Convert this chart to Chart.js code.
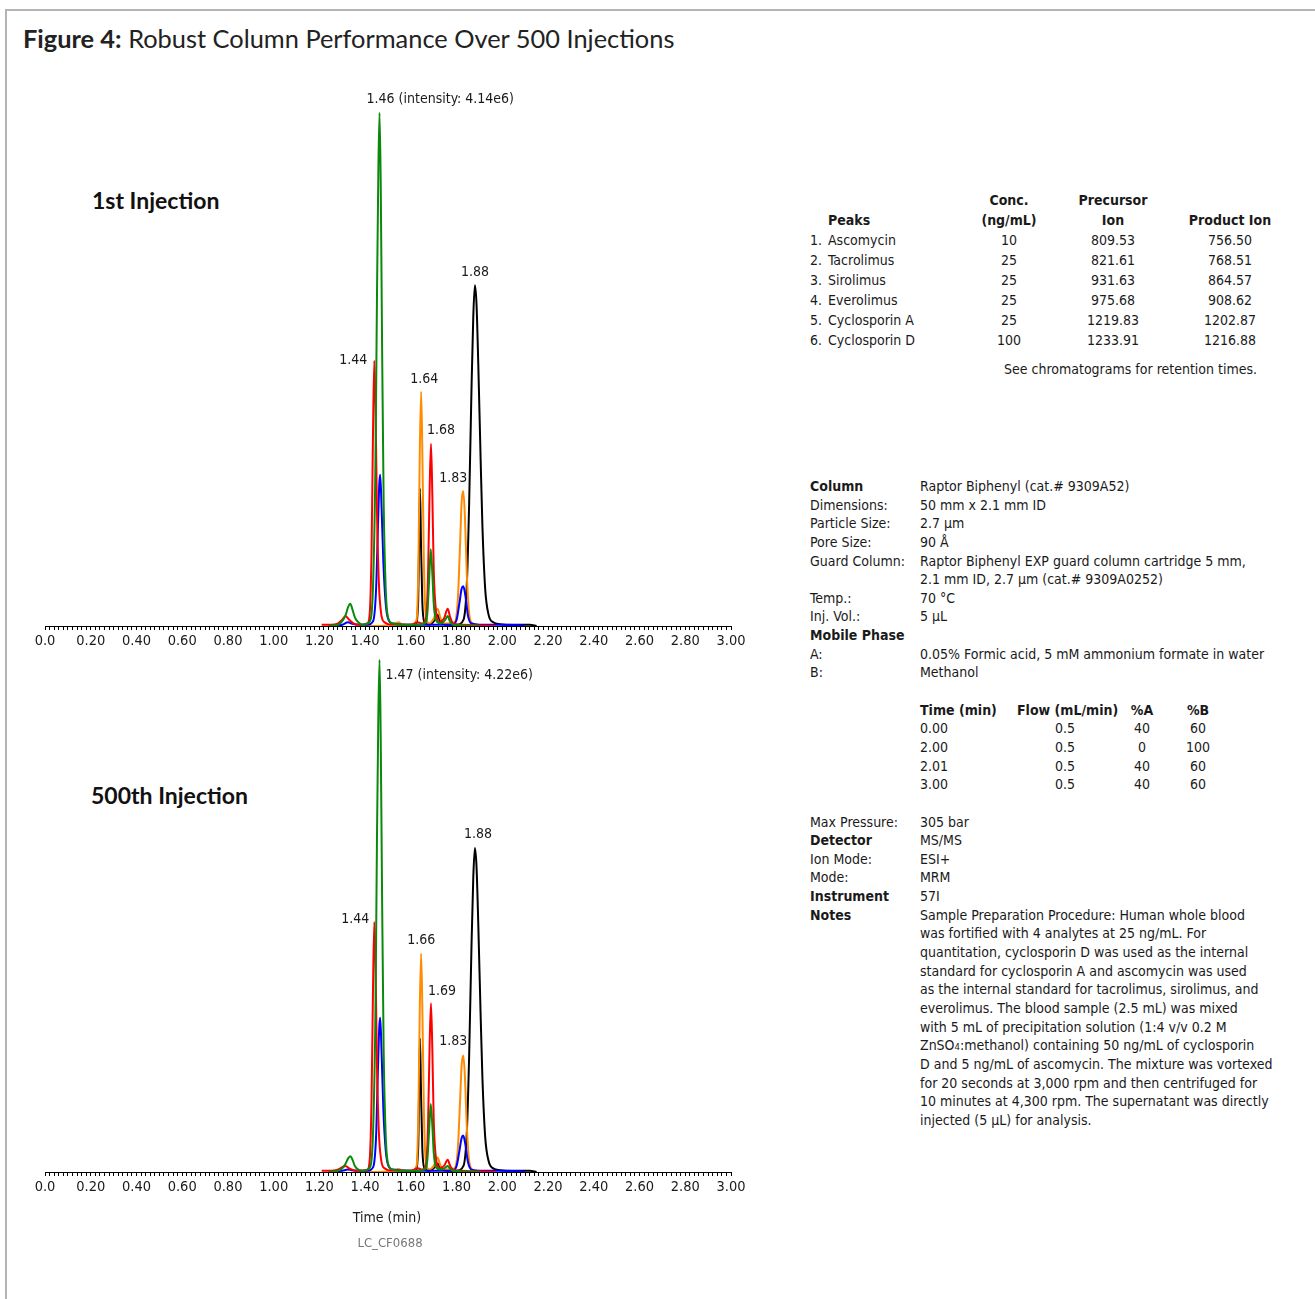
<!DOCTYPE html>
<html><head><meta charset="utf-8">
<script src="https://cdn.jsdelivr.net/npm/chart.js@4/dist/chart.umd.min.js"></script>
<style>
body{margin:0;width:1315px;height:1299px;position:relative;background:#fff;font-family:"DejaVu Sans Condensed",Roboto,sans-serif;color:#1a1a1a;overflow:hidden}
.fr1{position:absolute;left:5px;top:9px;width:1310px;height:2px;background:#b4b4b4}
.fr2{position:absolute;left:5px;top:9px;width:2px;height:1290px;background:#b4b4b4}
.title{position:absolute;left:23px;top:21px;font-family:Lato,sans-serif;font-size:25.4px;line-height:34px;white-space:nowrap;color:#222}
.title b{font-weight:700}
.inj{position:absolute;font-family:Lato,sans-serif;font-weight:700;font-size:23px;line-height:28px;white-space:nowrap;color:#111}
canvas{position:absolute;left:0}
.t16{font-size:14px}
.abs{position:absolute;white-space:nowrap}
.ctr{text-align:center}
.cond{position:absolute;left:810px;top:477px;font-size:14px;line-height:18.65px}
.cond .r{white-space:nowrap;height:18.65px}
.cond .k{display:inline-block;width:110px}
.grad span{display:inline-block;text-align:center}
</style></head>
<body>
<div class="fr1"></div><div class="fr2"></div>
<div class="title"><b>Figure 4:</b> Robust Column Performance Over 500 Injections</div>
<div class="inj" style="left:92px;top:186px">1st Injection</div>
<div class="inj" style="left:91px;top:781px">500th Injection</div>

<canvas id="c1" width="760" height="590" style="top:80px;width:760px;height:590px"></canvas>
<canvas id="c2" width="760" height="586" style="top:630px;width:760px;height:586px"></canvas>

<div class="abs t16 ctr" style="left:337px;top:1207px;width:100px;line-height:20px">Time (min)</div>
<div class="abs ctr" style="left:340px;top:1234px;width:100px;font-size:13px;line-height:18px;color:#777">LC_CF0688</div>

<div id="peaks"></div>
<div class="cond" id="cond"></div>

<script>
// ---------- chromatogram data: [time (min), intensity (x1e6)] ----------
const top_green = [[1.24,0],[1.28,0.01],[1.30,0.04],[1.315,0.09],[1.325,0.15],[1.335,0.18],[1.345,0.13],[1.355,0.07],[1.37,0.03],[1.39,0.01],[1.41,0.02],[1.425,0.06],[1.435,0.35],[1.445,1.3],[1.452,2.7],[1.458,3.7],[1.463,4.14],[1.468,3.6],[1.474,2.3],[1.481,1.0],[1.49,0.3],[1.50,0.07],[1.52,0.02],[1.56,0.01],[1.62,0.01],[1.66,0.02],[1.672,0.1],[1.68,0.38],[1.687,0.62],[1.694,0.42],[1.70,0.18],[1.71,0.05],[1.73,0.02],[1.75,0.05],[1.761,0.08],[1.77,0.04],[1.785,0.01],[1.82,0.005],[1.90,0]];
const top_red = [[1.21,0.01],[1.25,0.01],[1.28,0.02],[1.30,0.05],[1.314,0.08],[1.33,0.05],[1.35,0.02],[1.38,0.01],[1.41,0.02],[1.42,0.1],[1.428,0.6],[1.434,1.5],[1.44,2.14],[1.446,1.7],[1.452,0.9],[1.46,0.35],[1.47,0.1],[1.485,0.03],[1.52,0.01],[1.60,0.01],[1.63,0.03],[1.65,0.02],[1.665,0.05],[1.675,0.4],[1.682,1.1],[1.688,1.47],[1.694,1.05],[1.70,0.45],[1.71,0.12],[1.725,0.03],[1.745,0.06],[1.761,0.14],[1.772,0.07],[1.785,0.02],[1.82,0.01],[1.90,0.005],[1.97,0]];
const top_blue = [[1.26,0],[1.30,0.01],[1.325,0.03],[1.34,0.02],[1.37,0.01],[1.41,0.01],[1.435,0.04],[1.448,0.3],[1.456,0.8],[1.462,1.15],[1.466,1.22],[1.472,0.95],[1.48,0.5],[1.49,0.18],[1.50,0.06],[1.52,0.02],[1.60,0.01],[1.70,0.01],[1.78,0.01],[1.80,0.05],[1.812,0.18],[1.822,0.3],[1.829,0.32],[1.838,0.25],[1.85,0.08],[1.865,0.02],[1.90,0.01],[2.00,0.01],[2.10,0.005]];
const top_orange = [[1.40,0],[1.50,0.005],[1.53,0.02],[1.546,0.03],[1.56,0.015],[1.60,0.01],[1.625,0.05],[1.633,0.5],[1.639,1.4],[1.645,1.89],[1.651,1.3],[1.657,0.5],[1.665,0.1],[1.68,0.02],[1.70,0.06],[1.717,0.14],[1.73,0.06],[1.75,0.02],[1.79,0.03],[1.805,0.2],[1.815,0.65],[1.822,1.0],[1.829,1.09],[1.836,0.9],[1.845,0.4],[1.855,0.1],[1.87,0.02],[1.95,0]];
const top_black = [[1.58,0],[1.62,0.01],[1.632,0.2],[1.637,0.8],[1.640,1.11],[1.644,0.7],[1.65,0.2],[1.66,0.03],[1.68,0.01],[1.705,0.05],[1.717,0.09],[1.73,0.03],[1.76,0.01],[1.80,0.01],[1.83,0.05],[1.845,0.35],[1.855,1.0],[1.865,1.9],[1.873,2.5],[1.88,2.75],[1.887,2.6],[1.895,2.1],[1.905,1.35],[1.913,0.8],[1.925,0.3],[1.94,0.09],[1.96,0.03],[1.99,0.015],[2.05,0.01],[2.12,0.01],[2.15,0]];

const bot_green = [[1.24,0],[1.28,0.01],[1.30,0.03],[1.315,0.07],[1.325,0.11],[1.335,0.13],[1.345,0.10],[1.355,0.05],[1.37,0.02],[1.39,0.01],[1.41,0.02],[1.425,0.06],[1.435,0.35],[1.445,1.3],[1.452,2.8],[1.458,3.8],[1.463,4.22],[1.468,3.6],[1.474,2.3],[1.481,1.0],[1.49,0.3],[1.50,0.07],[1.52,0.02],[1.56,0.01],[1.62,0.01],[1.66,0.02],[1.672,0.1],[1.68,0.35],[1.687,0.56],[1.694,0.38],[1.70,0.16],[1.71,0.04],[1.73,0.02],[1.75,0.035],[1.761,0.05],[1.77,0.03],[1.785,0.01],[1.82,0.005],[1.90,0]];
const bot_red = [[1.21,0.01],[1.25,0.01],[1.28,0.02],[1.30,0.04],[1.314,0.05],[1.33,0.03],[1.35,0.015],[1.38,0.01],[1.41,0.02],[1.42,0.1],[1.428,0.6],[1.434,1.45],[1.44,2.06],[1.446,1.65],[1.452,0.85],[1.46,0.33],[1.47,0.1],[1.485,0.03],[1.52,0.01],[1.60,0.01],[1.63,0.03],[1.65,0.02],[1.665,0.05],[1.675,0.38],[1.682,1.05],[1.688,1.39],[1.694,1.0],[1.70,0.42],[1.71,0.11],[1.725,0.03],[1.745,0.05],[1.761,0.10],[1.772,0.05],[1.785,0.02],[1.82,0.01],[1.90,0.005],[1.97,0]];
const bot_blue = [[1.26,0],[1.30,0.01],[1.325,0.02],[1.34,0.015],[1.37,0.01],[1.41,0.01],[1.435,0.04],[1.448,0.3],[1.456,0.85],[1.462,1.2],[1.466,1.27],[1.472,0.98],[1.48,0.5],[1.49,0.18],[1.50,0.06],[1.52,0.02],[1.60,0.01],[1.70,0.01],[1.78,0.01],[1.80,0.05],[1.812,0.17],[1.822,0.28],[1.829,0.30],[1.838,0.23],[1.85,0.08],[1.865,0.02],[1.90,0.01],[2.00,0.01],[2.10,0.005]];
const bot_orange = [[1.40,0],[1.50,0.005],[1.53,0.02],[1.546,0.025],[1.56,0.015],[1.60,0.01],[1.625,0.05],[1.633,0.5],[1.639,1.35],[1.645,1.80],[1.651,1.25],[1.657,0.5],[1.665,0.1],[1.68,0.02],[1.70,0.05],[1.717,0.12],[1.73,0.05],[1.75,0.02],[1.79,0.03],[1.805,0.18],[1.815,0.58],[1.822,0.88],[1.829,0.96],[1.836,0.8],[1.845,0.36],[1.855,0.09],[1.87,0.02],[1.95,0]];
const bot_black = [[1.58,0],[1.62,0.01],[1.632,0.2],[1.637,0.8],[1.640,1.10],[1.644,0.7],[1.65,0.2],[1.66,0.03],[1.68,0.01],[1.705,0.04],[1.717,0.07],[1.73,0.03],[1.76,0.01],[1.80,0.01],[1.83,0.05],[1.845,0.34],[1.855,0.97],[1.865,1.85],[1.873,2.43],[1.88,2.67],[1.887,2.52],[1.895,2.03],[1.905,1.3],[1.913,0.77],[1.925,0.29],[1.94,0.09],[1.96,0.03],[1.99,0.015],[2.05,0.01],[2.12,0.01],[2.15,0]];

// peak labels: text, retention time, apex intensity
const top_labelText = ['1.46 (intensity: 4.14e6)','1.44','1.64','1.68','1.83','1.88'];
const top_labelTime = [1.463,1.44,1.645,1.688,1.829,1.88];
const top_labelHeight = [4.14,2.14,1.89,1.47,1.09,2.75];
const bot_labelText = ['1.47 (intensity: 4.22e6)','1.44','1.66','1.69','1.83','1.88'];
const bot_labelTime = [1.463,1.44,1.645,1.688,1.829,1.88];
const bot_labelHeight = [4.22,2.06,1.80,1.39,0.96,2.67];

// axis
const xMin = 0, xMax = 3.0, xMinorStep = 0.02;

// peaks table
const peakNames = ['Ascomycin','Tacrolimus','Sirolimus','Everolimus','Cyclosporin A','Cyclosporin D'];
const peakConc = ['10','25','25','25','25','100'];
const peakPrecursor = ['809.53','821.61','931.63','975.68','1219.83','1233.91'];
const peakProduct = ['756.50','768.51','864.57','908.62','1202.87','1216.88'];

// gradient table
const gradTime = ['0.00','2.00','2.01','3.00'];
const gradFlow = ['0.5','0.5','0.5','0.5'];
const gradA = ['40','0','40','40'];
const gradB = ['60','100','60','60'];

// ---------- styles ----------
const FONT = '"DejaVu Sans Condensed", Roboto, sans-serif';
const traceColors = {green:'#0a8a0a', red:'#ff0000', blue:'#0000ff', orange:'#ff8c00', black:'#000000'};
const labelStyle = [ // align, dx, dy (pixels) per label
  ['left',-13,-13],['right',-7,0],['center',3,-12],['center',10,-13],['center',-10,-13],['center',0,-13]
];
const labelStyleBot = [
  ['left',6,16],['right',-5,-3],['center',0,-13],['center',11,-12],['center',-10,-14],['center',3,-14]
];

const peakLabelPlugin = {
  id:'peakLabels',
  afterDatasetsDraw(chart, args, opts){
    const {ctx} = chart; const x = chart.scales.x, y = chart.scales.y;
    ctx.save();
    ctx.font = '14px ' + FONT;
    ctx.fillStyle = '#1a1a1a';
    ctx.textBaseline = 'middle';
    opts.text.forEach((t,i)=>{
      const st = opts.style[i];
      ctx.textAlign = st[0];
      ctx.fillText(t, x.getPixelForValue(opts.time[i]) + st[1], y.getPixelForValue(opts.height[i]) + st[2]);
    });
    ctx.restore();
  }
};

function makeChart(id, traces, ymax, padTop, labels){
  const order = ['green','red','blue','orange','black'];
  const datasets = order.map(k=>({
    label:k,
    data: traces[k].map(p=>({x:p[0], y:p[1]})),
    borderColor: traceColors[k],
    borderWidth: 2,
    pointRadius: 0,
    fill: false,
    cubicInterpolationMode: 'monotone'
  }));
  return new Chart(document.getElementById(id), {
    type:'line',
    data:{datasets},
    options:{
      responsive:false, animation:false,
      layout:{padding:{left:45, right:29, top:padTop, bottom:4}},
      plugins:{legend:{display:false}, tooltip:{enabled:false}, peakLabels:labels},
      scales:{
        x:{type:'linear', min:xMin, max:xMax,
           border:{display:true, color:'#000', width:1},
           grid:{drawOnChartArea:false, drawTicks:true, tickLength:4, color:'#000', tickColor:'#000'},
           ticks:{stepSize:xMinorStep, autoSkip:false, maxRotation:0, padding:3, color:'#1a1a1a',
             font:{family:FONT, size:14.5},
             callback:(v)=>{ const c = Math.round(v*100); if (c % 20 !== 0) return ''; return c===0 ? '0.0' : (c/100).toFixed(2); }},
           afterFit:(s)=>{ s.height = 40; }
        },
        y:{display:false, min:0, max:ymax}
      }
    },
    plugins:[peakLabelPlugin]
  });
}

makeChart('c1', {green:top_green, red:top_red, blue:top_blue, orange:top_orange, black:top_black}, 4.3, 13,
  {text:top_labelText, time:top_labelTime, height:top_labelHeight, style:labelStyle});
makeChart('c2', {green:bot_green, red:bot_red, blue:bot_blue, orange:bot_orange, black:bot_black}, 4.4, 8,
  {text:bot_labelText, time:bot_labelTime, height:bot_labelHeight, style:labelStyleBot});

// ---------- peaks table ----------
(function(){
  const root = document.getElementById('peaks');
  let h = '';
  const lh = 20;
  h += `<div class="abs t16 ctr" style="left:959px;top:190px;width:100px;line-height:20px;font-weight:700">Conc.<br>(ng/mL)</div>`;
  h += `<div class="abs t16 ctr" style="left:1063px;top:190px;width:100px;line-height:20px;font-weight:700">Precursor<br>Ion</div>`;
  h += `<div class="abs t16" style="left:828px;top:210px;line-height:20px;font-weight:700">Peaks</div>`;
  h += `<div class="abs t16 ctr" style="left:1170px;top:210px;width:120px;line-height:20px;font-weight:700">Product Ion</div>`;
  peakNames.forEach((n,i)=>{
    const top = 230 + i*lh;
    h += `<div class="abs t16" style="left:810px;top:${top}px;line-height:20px">${i+1}.</div>`;
    h += `<div class="abs t16" style="left:828px;top:${top}px;line-height:20px">${n}</div>`;
    h += `<div class="abs t16 ctr" style="left:959px;top:${top}px;width:100px;line-height:20px">${peakConc[i]}</div>`;
    h += `<div class="abs t16 ctr" style="left:1063px;top:${top}px;width:100px;line-height:20px">${peakPrecursor[i]}</div>`;
    h += `<div class="abs t16 ctr" style="left:1170px;top:${top}px;width:120px;line-height:20px">${peakProduct[i]}</div>`;
  });
  h += `<div class="abs t16" style="left:1004px;top:359px;line-height:20px">See chromatograms for retention times.</div>`;
  root.innerHTML = h;
})();

// ---------- conditions ----------
(function(){
  const rows = [
    ['<b>Column</b>','Raptor Biphenyl (cat.# 9309A52)'],
    ['Dimensions:','50 mm x 2.1 mm ID'],
    ['Particle Size:','2.7 µm'],
    ['Pore Size:','90 Å'],
    ['Guard Column:','Raptor Biphenyl EXP guard column cartridge 5 mm,'],
    ['','2.1 mm ID, 2.7 µm (cat.# 9309A0252)'],
    ['Temp.:','70 °C'],
    ['Inj. Vol.:','5 µL'],
    ['<b>Mobile Phase</b>',''],
    ['A:','0.05% Formic acid, 5 mM ammonium formate in water'],
    ['B:','Methanol'],
    ['',''],
    ['GRADHEAD',''],
  ];
  gradTime.forEach((t,i)=>rows.push(['GRAD'+i,'']));
  rows.push(['','']);
  const rest = [
    ['Max Pressure:','305 bar'],
    ['<b>Detector</b>','MS/MS'],
    ['Ion Mode:','ESI+'],
    ['Mode:','MRM'],
    ['<b>Instrument</b>','57I'],
    ['<b>Notes</b>','Sample Preparation Procedure: Human whole blood'],
    ['','was fortified with 4 analytes at 25 ng/mL. For'],
    ['','quantitation, cyclosporin D was used as the internal'],
    ['','standard for cyclosporin A and ascomycin was used'],
    ['','as the internal standard for tacrolimus, sirolimus, and'],
    ['','everolimus. The blood sample (2.5 mL) was mixed'],
    ['','with 5 mL of precipitation solution (1:4 v/v 0.2 M'],
    ['','ZnSO<span style="font-size:9.5px">4</span>:methanol) containing 50 ng/mL of cyclosporin'],
    ['','D and 5 ng/mL of ascomycin. The mixture was vortexed'],
    ['','for 20 seconds at 3,000 rpm and then centrifuged for'],
    ['','10 minutes at 4,300 rpm. The supernatant was directly'],
    ['','injected (5 µL) for analysis.'],
  ];
  rest.forEach(r=>rows.push(r));
  const W = [97,96,58,54];
  let h = '';
  rows.forEach(r=>{
    if (r[0]==='GRADHEAD'){
      h += `<div class="r grad"><span class="k"></span><b><span style="width:${W[0]}px;text-align:left">Time (min)</span><span style="width:${W[1]}px">Flow (mL/min)</span><span style="width:${W[2]}px">%A</span><span style="width:${W[3]}px">%B</span></b></div>`;
    } else if (r[0].startsWith('GRAD')){
      const i = +r[0].slice(4);
      h += `<div class="r grad"><span class="k"></span><span style="width:${W[0]}px;text-align:left">${gradTime[i]}</span><span style="width:${W[1]}px">${gradFlow[i]}</span><span style="width:${W[2]}px">${gradA[i]}</span><span style="width:${W[3]}px">${gradB[i]}</span></div>`;
    } else {
      h += `<div class="r"><span class="k">${r[0]}</span>${r[1]}</div>`;
    }
  });
  document.getElementById('cond').innerHTML = h;
})();
</script>
</body></html>
